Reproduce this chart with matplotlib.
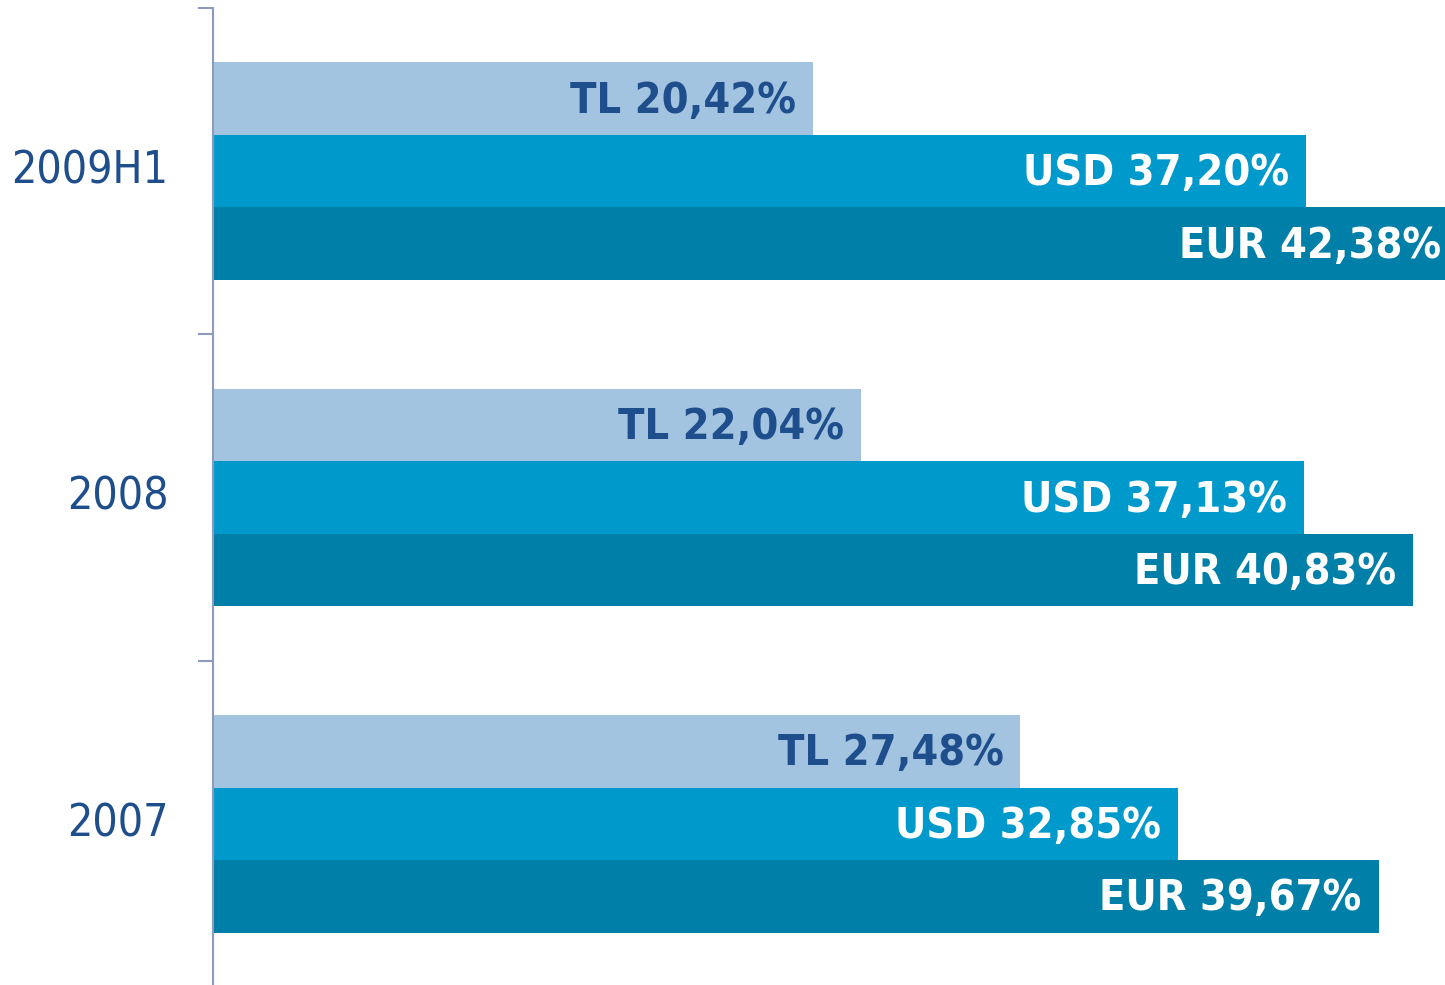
import matplotlib
matplotlib.use("Agg")
import matplotlib.pyplot as plt
import numpy as np

# data, bottom to top
periods = ["2007", "2008", "2009H1"]
tl = [27.48, 22.04, 20.42]
usd = [32.85, 37.13, 37.20]
eur = [39.67, 40.83, 42.38]

series = [
    ("TL", tl, "#a3c4e0", "#1f4e8c", 0.222),
    ("USD", usd, "#0099cc", "white", 0.0),
    ("EUR", eur, "#007fa8", "white", -0.222),
]

font = dict(family="DejaVu Sans", stretch="condensed")

fig = plt.figure(figsize=(14.45, 9.85), dpi=100)
ax = fig.add_axes([213 / 1445, -2 / 985, 1 - 213 / 1445, 979 / 985])

y = np.arange(len(periods))
for name, values, color, text_color, offset in series:
    bars = ax.barh(y + offset, values, height=0.222, color=color, linewidth=0)
    for bar, v in zip(bars, values):
        label = "%s %s%%" % (name, ("%.2f" % v).replace(".", ","))
        ax.annotate(label, xy=(bar.get_width(), bar.get_y() + bar.get_height() / 2),
                    xytext=(-17, -2), textcoords="offset pixels",
                    ha="right", va="center", color=text_color,
                    fontsize=31, weight="bold", annotation_clip=False, **font)

ax.set_xlim(0, 41.93)
ax.set_ylim(-0.5, 2.5)

# category borders as major ticks, names as minor ticks
ax.set_yticks([0.5, 1.5, 2.5])
ax.set_yticklabels([])
ax.set_yticks(y, minor=True)
ax.set_yticklabels(periods, minor=True, fontsize=32, color="#1f4e8c", va="center", **font)
ax.tick_params(axis="y", which="major", length=11, width=1.5, color="#8c9bbd", direction="out")
ax.tick_params(axis="y", which="minor", length=0, pad=32)
ax.set_xticks([])

for side in ["top", "right", "bottom"]:
    ax.spines[side].set_visible(False)
ax.spines["left"].set_color("#8c9bbd")
ax.spines["left"].set_linewidth(1.5)
ax.spines["left"].set_zorder(5)

fig.savefig("out.png", dpi=100)
